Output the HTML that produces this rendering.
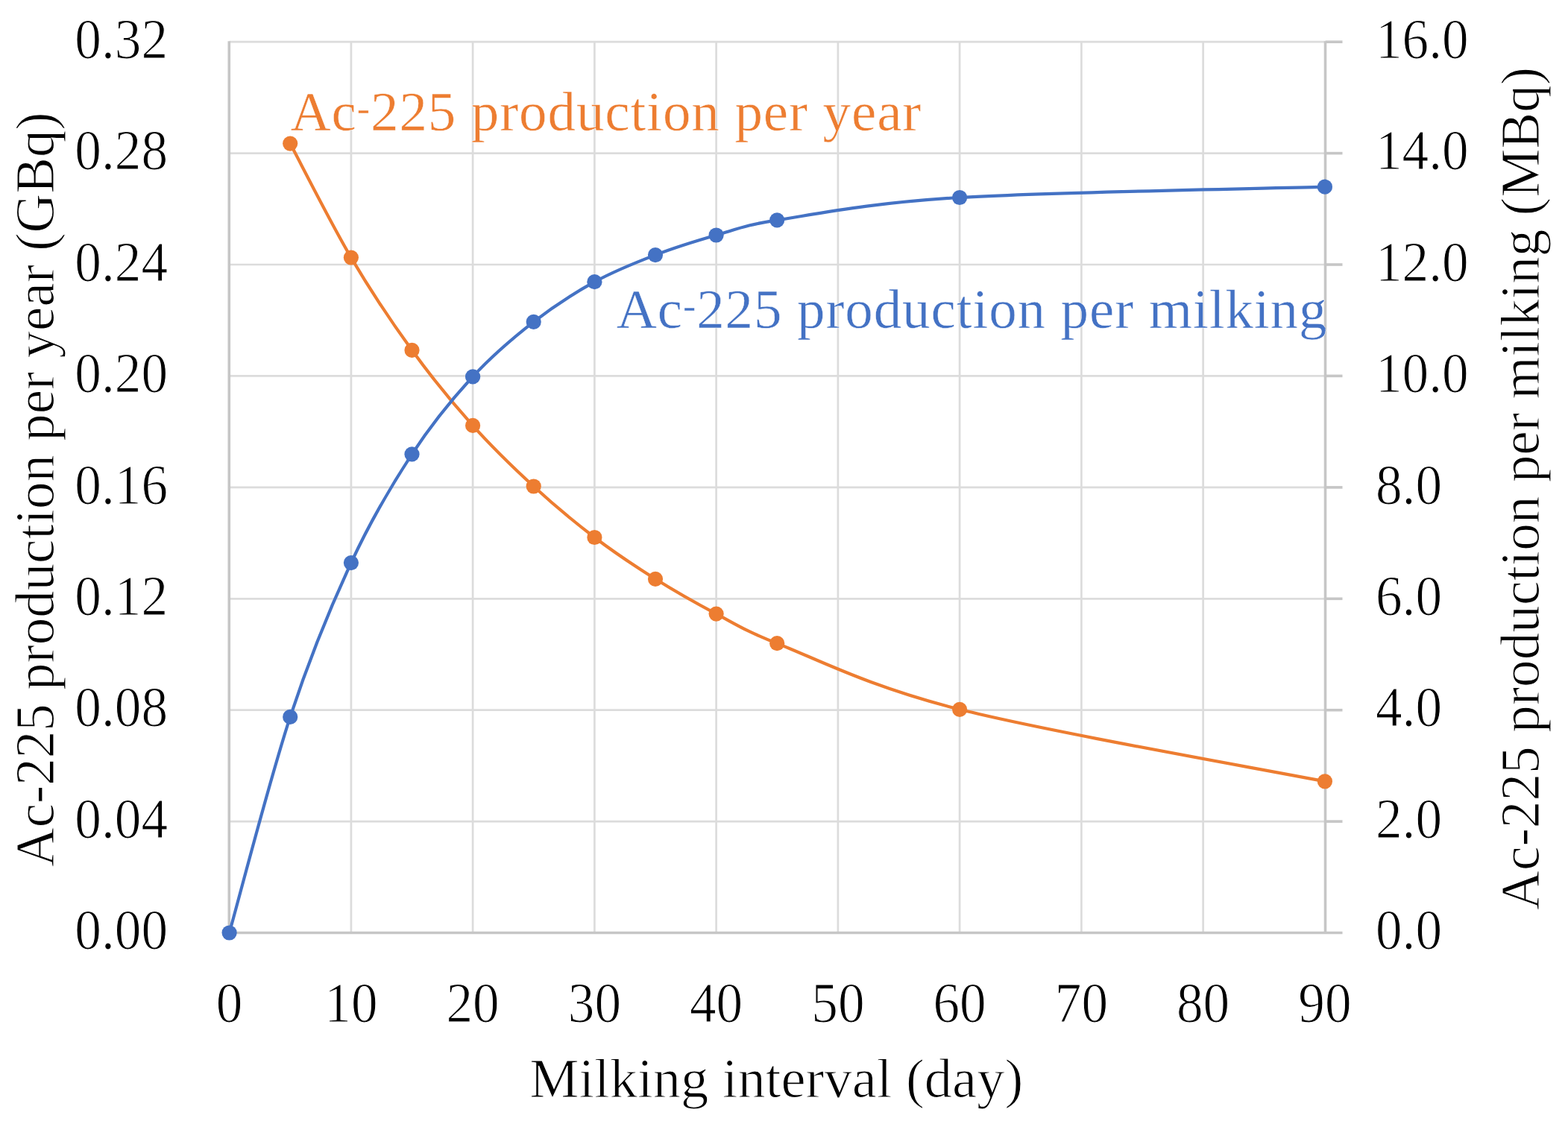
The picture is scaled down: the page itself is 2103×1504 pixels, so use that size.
<!DOCTYPE html>
<html><head><meta charset="utf-8"><title>Ac-225 production vs milking interval</title>
<style>
html,body{margin:0;padding:0;background:#fff;}
body{width:2103px;height:1504px;overflow:hidden;}
svg{display:block;}
text{font-family:"Liberation Serif","Noto Serif CJK JP",serif;}
</style></head><body>
<svg width="2103" height="1504" viewBox="0 0 2103 1504">
<rect width="2103" height="1504" fill="#fff"/>
<g stroke="#DCDCDC" stroke-width="2.7" fill="none">
<line x1="307.6" y1="1102.1" x2="1776.9" y2="1102.1"/>
<line x1="307.6" y1="952.7" x2="1776.9" y2="952.7"/>
<line x1="307.6" y1="803.3" x2="1776.9" y2="803.3"/>
<line x1="307.6" y1="653.9" x2="1776.9" y2="653.9"/>
<line x1="307.6" y1="504.4" x2="1776.9" y2="504.4"/>
<line x1="307.6" y1="355.0" x2="1776.9" y2="355.0"/>
<line x1="307.6" y1="205.6" x2="1776.9" y2="205.6"/>
<line x1="307.6" y1="56.2" x2="1776.9" y2="56.2"/>
<line x1="470.9" y1="56.2" x2="470.9" y2="1251.5"/>
<line x1="634.1" y1="56.2" x2="634.1" y2="1251.5"/>
<line x1="797.4" y1="56.2" x2="797.4" y2="1251.5"/>
<line x1="960.6" y1="56.2" x2="960.6" y2="1251.5"/>
<line x1="1123.9" y1="56.2" x2="1123.9" y2="1251.5"/>
<line x1="1287.1" y1="56.2" x2="1287.1" y2="1251.5"/>
<line x1="1450.4" y1="56.2" x2="1450.4" y2="1251.5"/>
<line x1="1613.6" y1="56.2" x2="1613.6" y2="1251.5"/>
</g>
<g stroke="#C6C6C6" stroke-width="3.6" fill="none">
<line x1="307.3" y1="55.2" x2="307.3" y2="1251.5"/>
<line x1="1777.5" y1="55.2" x2="1777.5" y2="1251.5"/>
<line x1="306.6" y1="1251.5" x2="1800.5" y2="1251.5"/>
<line x1="1777.5" y1="1102.1" x2="1800.5" y2="1102.1"/>
<line x1="1777.5" y1="952.7" x2="1800.5" y2="952.7"/>
<line x1="1777.5" y1="803.3" x2="1800.5" y2="803.3"/>
<line x1="1777.5" y1="653.9" x2="1800.5" y2="653.9"/>
<line x1="1777.5" y1="504.4" x2="1800.5" y2="504.4"/>
<line x1="1777.5" y1="355.0" x2="1800.5" y2="355.0"/>
<line x1="1777.5" y1="205.6" x2="1800.5" y2="205.6"/>
<line x1="1777.5" y1="56.2" x2="1800.5" y2="56.2"/>
</g>
<g font-size="76.6" fill="#000" stroke="#fff" stroke-width="1.1">
<text transform="translate(225.0,1273.1) scale(0.93,1)" text-anchor="end">0.00</text>
<text transform="translate(1845.0,1273.1) scale(0.93,1)">0.0</text>
<text transform="translate(225.0,1123.7) scale(0.93,1)" text-anchor="end">0.04</text>
<text transform="translate(1845.0,1123.7) scale(0.93,1)">2.0</text>
<text transform="translate(225.0,974.3) scale(0.93,1)" text-anchor="end">0.08</text>
<text transform="translate(1845.0,974.3) scale(0.93,1)">4.0</text>
<text transform="translate(225.0,824.9) scale(0.93,1)" text-anchor="end">0.12</text>
<text transform="translate(1845.0,824.9) scale(0.93,1)">6.0</text>
<text transform="translate(225.0,675.5) scale(0.93,1)" text-anchor="end">0.16</text>
<text transform="translate(1845.0,675.5) scale(0.93,1)">8.0</text>
<text transform="translate(225.0,526.0) scale(0.93,1)" text-anchor="end">0.20</text>
<text transform="translate(1845.0,526.0) scale(0.93,1)">10.0</text>
<text transform="translate(225.0,376.6) scale(0.93,1)" text-anchor="end">0.24</text>
<text transform="translate(1845.0,376.6) scale(0.93,1)">12.0</text>
<text transform="translate(225.0,227.2) scale(0.93,1)" text-anchor="end">0.28</text>
<text transform="translate(1845.0,227.2) scale(0.93,1)">14.0</text>
<text transform="translate(225.0,77.8) scale(0.93,1)" text-anchor="end">0.32</text>
<text transform="translate(1845.0,77.8) scale(0.93,1)">16.0</text>
<text transform="translate(307.6,1371.2) scale(0.93,1)" text-anchor="middle">0</text>
<text transform="translate(470.9,1371.2) scale(0.93,1)" text-anchor="middle">10</text>
<text transform="translate(634.1,1371.2) scale(0.93,1)" text-anchor="middle">20</text>
<text transform="translate(797.4,1371.2) scale(0.93,1)" text-anchor="middle">30</text>
<text transform="translate(960.6,1371.2) scale(0.93,1)" text-anchor="middle">40</text>
<text transform="translate(1123.9,1371.2) scale(0.93,1)" text-anchor="middle">50</text>
<text transform="translate(1287.1,1371.2) scale(0.93,1)" text-anchor="middle">60</text>
<text transform="translate(1450.4,1371.2) scale(0.93,1)" text-anchor="middle">70</text>
<text transform="translate(1613.6,1371.2) scale(0.93,1)" text-anchor="middle">80</text>
<text transform="translate(1776.9,1371.2) scale(0.93,1)" text-anchor="middle">90</text>
</g>
<text x="389.5" y="175.4" font-size="75" letter-spacing="0.9" fill="#ED7D31" stroke="#fff" stroke-width="0.5">Ac<tspan font-size="52" dy="-12">-</tspan><tspan dy="12">225 production per year</tspan></text>
<text x="826.7" y="439.6" font-size="75" letter-spacing="0.9" fill="#4472C4" stroke="#fff" stroke-width="0.5">Ac<tspan font-size="52" dy="-12">-</tspan><tspan dy="12">225 production per milking</tspan></text>
<path d="M389.2,192.6 C402.8,218.1 443.6,299.4 470.9,345.6 C498.1,391.8 525.3,432.3 552.5,469.8 C579.7,507.4 606.9,540.5 634.1,570.9 C661.3,601.4 688.5,627.5 715.7,652.5 C742.9,677.5 770.2,700.3 797.4,721.0 C824.6,741.7 851.8,759.7 879.0,776.8 C906.2,793.9 933.4,809.2 960.6,823.6 C987.8,838.0 1000.0,846.6 1042.2,863.2 C1096.7,884.6 1164.7,920.9 1287.1,951.8 C1409.6,982.6 1695.3,1032.3 1776.9,1048.4" stroke="#ED7D31" stroke-width="4.2" fill="none" stroke-linejoin="round"/>
<path d="M307.6,1251.5 C321.2,1203.2 362.0,1044.6 389.2,961.9 C416.4,879.2 443.6,813.9 470.9,755.1 C498.1,696.4 525.3,651.0 552.5,609.4 C579.7,567.8 606.9,534.9 634.1,505.3 C661.3,475.7 688.5,453.0 715.7,431.8 C742.9,410.7 770.2,393.2 797.4,378.2 C824.6,363.2 851.8,352.5 879.0,342.1 C906.2,331.6 933.4,323.3 960.6,315.5 C987.8,307.7 1000.7,301.7 1042.2,295.3 C1096.7,286.9 1164.7,272.5 1287.1,265.0 C1409.6,257.6 1695.3,253.1 1776.9,250.7" stroke="#4472C4" stroke-width="4.2" fill="none" stroke-linejoin="round"/>
<g fill="#ED7D31">
<circle cx="389.2" cy="192.6" r="10.1"/>
<circle cx="470.9" cy="345.6" r="10.1"/>
<circle cx="552.5" cy="469.8" r="10.1"/>
<circle cx="634.1" cy="570.9" r="10.1"/>
<circle cx="715.7" cy="652.5" r="10.1"/>
<circle cx="797.4" cy="721.0" r="10.1"/>
<circle cx="879.0" cy="776.8" r="10.1"/>
<circle cx="960.6" cy="823.6" r="10.1"/>
<circle cx="1042.2" cy="863.2" r="10.1"/>
<circle cx="1287.1" cy="951.8" r="10.1"/>
<circle cx="1776.9" cy="1048.4" r="10.1"/>
</g>
<g fill="#4472C4">
<circle cx="307.6" cy="1251.5" r="10.1"/>
<circle cx="389.2" cy="961.9" r="10.1"/>
<circle cx="470.9" cy="755.1" r="10.1"/>
<circle cx="552.5" cy="609.4" r="10.1"/>
<circle cx="634.1" cy="505.3" r="10.1"/>
<circle cx="715.7" cy="431.8" r="10.1"/>
<circle cx="797.4" cy="378.2" r="10.1"/>
<circle cx="879.0" cy="342.1" r="10.1"/>
<circle cx="960.6" cy="315.5" r="10.1"/>
<circle cx="1042.2" cy="295.3" r="10.1"/>
<circle cx="1287.1" cy="265.0" r="10.1"/>
<circle cx="1776.9" cy="250.7" r="10.1"/>
</g>
<text x="1041.2" y="1471.6" font-size="74.5" fill="#000" stroke="#fff" stroke-width="1.1" text-anchor="middle">Milking interval (day)</text>
<text transform="translate(71.5,656.7) rotate(-90)" font-size="72.95" fill="#000" stroke="#fff" stroke-width="1.1" text-anchor="middle">Ac-225 production per year (GBq)</text>
<text transform="translate(2063.5,655.4) rotate(-90)" font-size="73.25" fill="#000" stroke="#fff" stroke-width="1.1" text-anchor="middle">Ac-225 production per milking (MBq)</text>
</svg>
</body></html>
